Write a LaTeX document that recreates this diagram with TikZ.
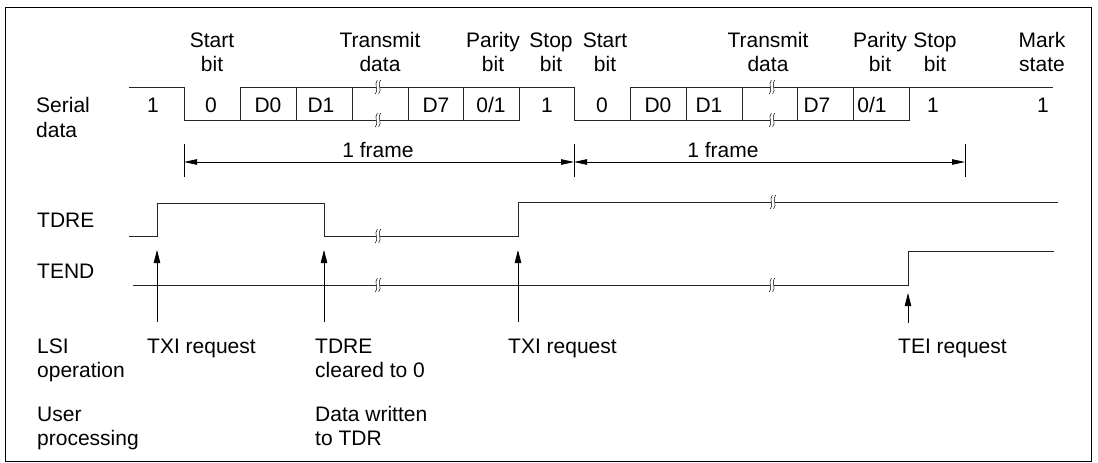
\documentclass[tikz,border=0pt]{standalone}
\usepackage{fontspec}
\setmainfont{Liberation Sans}
\usetikzlibrary{arrows.meta}
\begin{document}
\begin{tikzpicture}[x=1pt,y=-1pt,
  sig/.style={line width=0.9pt, line join=miter, draw=black!85},
  txt/.style={font=\fontsize{21}{24}\selectfont, inner sep=0pt, anchor=base},
  ltxt/.style={txt, anchor=base west},
  arr/.style={line width=0.8pt, -{Triangle[length=13pt,width=6.5pt]}},
  dim/.style={line width=0.8pt, -{Triangle[length=13pt,width=5.5pt]}},
  tick/.style={line width=0.8pt},
  brk/.pic={
    \fill[white] (-1.6,-1.5) rectangle (1.6,1.5);
    \draw[line width=0.5pt] (-0.6,-7) .. controls (-4.6,-2.5) and (1.2,2.5) .. (-2.6,7);
    \draw[line width=0.5pt] (2.6,-7) .. controls (-1.2,-2.5) and (4.6,2.5) .. (0.6,7);
  }]
\useasboundingbox (0,0) rectangle (1098,463);
% frame
\draw[line width=1pt] (5,7) rectangle (1091,461);

% left labels
\node[ltxt] (serial) at (36,112) {Serial};
\node[ltxt] (sdata) at (36,137) {data};
\node[ltxt] (tdrel) at (37,227) {TDRE};
\node[ltxt] (tendl) at (37,278) {TEND};
\node[ltxt] (lsi) at (37,353) {LSI};
\node[ltxt] (oper) at (37,377) {operation};
\node[ltxt] (user) at (37,421) {User};
\node[ltxt] (proc) at (37,445) {processing};

% top labels
\foreach \x/\a/\b [count=\i] in {212/Start/bit, 380/Transmit/data, 493/Parity/bit, 551/Stop/bit, 605/Start/bit, 768/Transmit/data, 880/Parity/bit, 935/Stop/bit, 1042/Mark/state}{
  \node[txt] (ta\i) at (\x,47) {\a};
  \node[txt] (tb\i) at (\x,71) {\b};
}

% serial data waveform
\draw[sig] (129,87) -- (184,87) -- (184,120) -- (519,120) -- (519,87) -- (574,87) -- (574,120) -- (909,120) -- (909,87) -- (1053,87);
\draw[sig] (240,87) -- (519,87);
\draw[sig] (630,87) -- (909,87);
\foreach \x in {240,296,352,408,463,630,686,742,797,853}{
  \draw[sig] (\x,87) -- (\x,120);
}
\foreach \x in {378,772}{
  \pic at (\x,87) {brk};
  \pic at (\x,120) {brk};
}
% serial values
\foreach \x/\v [count=\i] in {153/1, 211/0, 268/D0, 321/D1, 436/D7, 491/0\slash 1, 547/1, 602/0, 658/D0, 709/D1, 817/D7, 872/0\slash 1, 933/1, 1043/1}{
  \node[txt] (v\i) at (\x,112) {\v};
}

% frame dimension lines
\coordinate (f0) at (184,162);
\coordinate (f1) at (574,162);
\coordinate (f2) at (965,162);
\foreach \x in {184,574,965}{
  \draw[tick] (\x,144) -- (\x,177);
}
\coordinate (m1) at (379,162);
\coordinate (m2) at (770,162);
\draw[dim] (m1) -- (f0);
\draw[dim] (m1) -- (f1);
\draw[dim] (m2) -- (f1);
\draw[dim] (m2) -- (f2);
\node[txt] (fr1) at (378,157) {1 frame};
\node[txt] (fr2) at (723,157) {1 frame};

% TDRE
\draw[sig] (129,236) -- (157,236) -- (157,203) -- (324,203) -- (324,236) -- (518,236) -- (518,202) -- (1058,202);
\pic at (378,236) {brk};
\pic at (773,202) {brk};
% TEND
\draw[sig] (133,285) -- (908,285) -- (908,251) -- (1054,251);
\pic at (378,285) {brk};
\pic at (772,285) {brk};

% arrows
\coordinate (a1b) at (157,322); \coordinate (a1t) at (157,250);
\coordinate (a2b) at (324,322); \coordinate (a2t) at (324,250);
\coordinate (a3b) at (518,322); \coordinate (a3t) at (518,250);
\coordinate (a4b) at (908,323); \coordinate (a4t) at (908,293);
\draw[arr] (a1b) -- (a1t);
\draw[arr] (a2b) -- (a2t);
\draw[arr] (a3b) -- (a3t);
\draw[arr] (a4b) -- (a4t);

% lower labels
\node[ltxt] (txi1) at (147,353) {TXI request};
\node[ltxt] (clr1) at (315,353) {TDRE};
\node[ltxt] (clr2) at (315,377) {cleared to 0};
\node[ltxt] (dw1) at (315,421) {Data written};
\node[ltxt] (dw2) at (315,445) {to TDR};
\node[ltxt] (txi2) at (508,353) {TXI request};
\node[ltxt] (tei) at (898,353) {TEI request};
\end{tikzpicture}
\end{document}
